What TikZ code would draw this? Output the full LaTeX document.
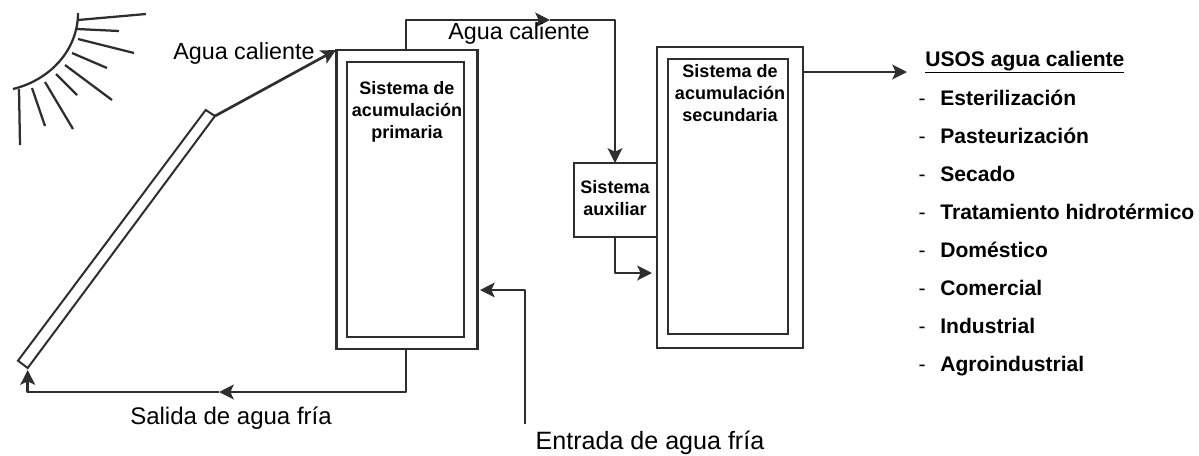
\documentclass[tikz,border=0pt]{standalone}
\usepackage{fontspec}
\setmainfont{Liberation Sans}
\usetikzlibrary{positioning,arrows.meta}
\definecolor{linegray}{HTML}{2E2E2E}
\begin{document}
\begin{tikzpicture}
		[x=0.75pt,y=-0.75pt,
		line width=2pt,
		tank/.style={rectangle,draw=linegray,inner sep=0pt,outer sep=0pt},
		pipe/.style={draw=linegray,line join=round,-{Stealth[length=11pt,width=11pt,inset=2.5pt]}},
		ray/.style={draw=linegray,line width=1.7pt},
		rotulo/.style={inner sep=0pt,font=\fontsize{17.5}{20}\selectfont},
		titulo/.style={inner sep=0pt,align=center,font=\bfseries\fontsize{13.5}{16.5}\selectfont},
		uso/.style={inner sep=0pt,anchor=base west,font=\bfseries\fontsize{15.8}{18}\selectfont},
		guion/.style={inner sep=0pt,anchor=base,font=\fontsize{15.8}{18}\selectfont}]
		\useasboundingbox (0,0) rectangle (1199,455);

		% tanques
		\node [tank,minimum width=105.75pt,minimum height=224.25pt] (prim) at (407,199.5) {};
		\node [tank,minimum width=87.75pt,minimum height=206.25pt] (primin) at (405.5,199.5) {};
		\node [tank,minimum width=109.5pt,minimum height=225.75pt] (sec) at (730,197.5) {};
		\node [tank,minimum width=90pt,minimum height=206.25pt] (secin) at (728,196.5) {};
		\node [tank,minimum width=62.25pt,minimum height=55.5pt,anchor=north east] (aux) at (sec.west |- 0,163) {};

		\node [titulo] (primt) at (407,112) {Sistema de\\acumulación\\primaria};
		\node [titulo] (sect) at (730,93) {Sistema de\\acumulación\\secundaria};
		\node [titulo] (auxt) at (615,198) {Sistema\\auxiliar};

		% colector
		\coordinate (c1) at (205.7,110);
		\coordinate (c2) at (215,116);
		\coordinate (c3) at (27.7,368);
		\coordinate (c4) at (18,360.7);
		\draw [linegray,line width=1.5pt] (c1) -- (c2) -- (c3) -- (c4) -- cycle;

		% sol
		\draw [ray] (78,13) .. controls (78,50) and (50,80) .. (13,89);
		\draw [ray] (78,20) -- (146,14);
		\draw [ray] (77,29) -- (119,31);
		\draw [ray] (78,39) -- (134,53);
		\draw [ray] (72,53) -- (107,68);
		\draw [ray] (65,65) -- (112,100);
		\draw [ray] (56,74) -- (77,95);
		\draw [ray] (45,82) -- (73,129);
		\draw [ray] (32,88) -- (45,126);
		\draw [ray] (19,89) -- (20,145);

		% tuberias
		\coordinate (p1) at (406,50);
		\coordinate (p2) at (406,20);
		\coordinate (p3) at (550,20);
		\coordinate (p4) at (615,20);
		\coordinate (a1) at (615,237);
		\coordinate (a2) at (615,273);
		\coordinate (a3) at (652,273);
		\coordinate (e1) at (525,424);
		\coordinate (e2) at (525,290);
		\coordinate (e3) at (480,290);
		\coordinate (s1) at (406,349);
		\coordinate (s2) at (406,392);
		\coordinate (s3) at (219,392);
		\coordinate (s4) at (27.7,392);
		\coordinate (s5) at (27.7,370);
		\coordinate (u1) at (803,72);
		\coordinate (u2) at (907,72);

		\draw [pipe] (c2) -- (336,50);
		\draw [pipe] (p1) -- (p2) -- (p3);
		\draw [pipe] (p3) -- (p4) -- (aux.north -| p4);
		\draw [pipe] (a1) -- (a2) -- (a3);
		\draw [pipe,line width=1.5pt] (e1) -- (e2) -- (e3);
		\draw [pipe] (s1) -- (s2) -- (s3);
		\draw [pipe] (s3) -- (s4) -- (s5);
		\draw [pipe] (u1) -- (u2);

		% textos
		\node [rotulo] (t1) at (244,53) {Agua caliente};
		\node [rotulo] (t2) at (519,33) {Agua caliente};
		\node [rotulo,font=\fontsize{18}{20}\selectfont] (t3) at (231,418) {Salida de agua fría};
		\node [rotulo,font=\fontsize{18.8}{20}\selectfont] (t4) at (650,443) {Entrada de agua fría};

		\node [uso] (u0) at (924,66) {\underline{USOS agua caliente}};
		\foreach \i/\txt in {0/Esterilización,1/Pasteurización,2/Secado,3/Tratamiento hidrotérmico,4/Doméstico,5/Comercial,6/Industrial,7/Agroindustrial}
		{
			\node [uso] (us\i) at (939,105+38*\i) {\txt};
			\node [guion] (g\i) at (922,105+38*\i) {-};
		}
	\end{tikzpicture}
\end{document}
